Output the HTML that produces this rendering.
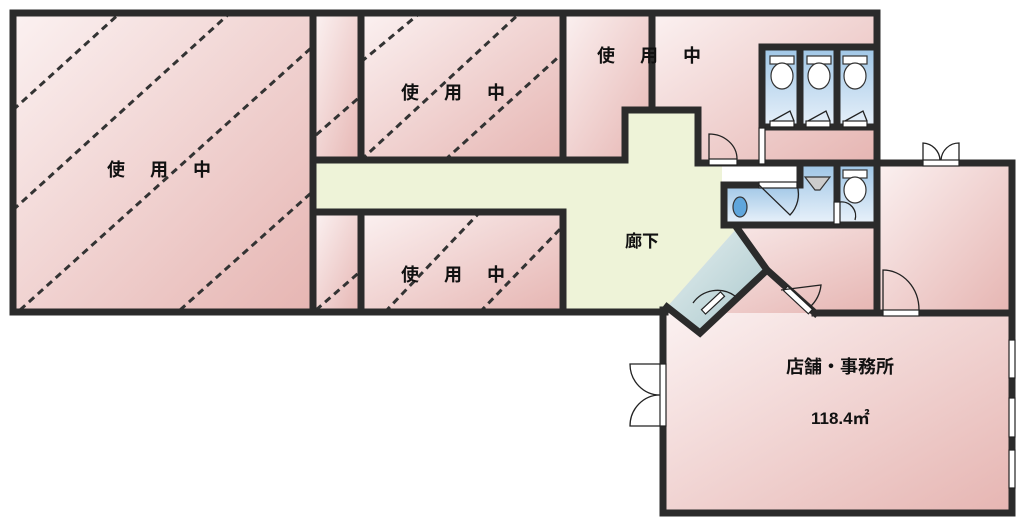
<!DOCTYPE html>
<html><head><meta charset="utf-8"><style>
html,body{margin:0;padding:0;background:#fff;}
svg{display:block;}
text{font-family:"Liberation Sans","Noto Sans CJK JP",sans-serif;font-weight:bold;fill:#111;}
</style></head><body>
<svg width="1028" height="525" viewBox="0 0 1028 525" xmlns="http://www.w3.org/2000/svg">
<defs>
<linearGradient id="pk" x1="0" y1="0" x2="1" y2="1">
<stop offset="0" stop-color="#fbf1f1"/><stop offset="1" stop-color="#e6b5b2"/></linearGradient>
<linearGradient id="bl" x1="0" y1="0" x2="0" y2="1">
<stop offset="0" stop-color="#9fc6e6"/><stop offset="1" stop-color="#e8f1fa"/></linearGradient>
<linearGradient id="cl" x1="0" y1="0" x2="1" y2="1">
<stop offset="0" stop-color="#e6f0f0"/><stop offset="1" stop-color="#a9c7cc"/></linearGradient>
<clipPath id="c1"><rect x="13" y="13" width="300" height="300"/></clipPath>
<clipPath id="c2"><rect x="316" y="13" width="46" height="147"/></clipPath>
<clipPath id="c3"><rect x="361" y="13" width="203" height="147"/></clipPath>
<clipPath id="c4"><rect x="316" y="212" width="46" height="100"/></clipPath>
<clipPath id="c5"><rect x="361" y="212" width="203" height="100"/></clipPath>
</defs>
<rect x="13" y="13" width="300" height="300" fill="url(#pk)"/>
<rect x="316" y="13" width="46" height="147" fill="url(#pk)"/>
<rect x="361" y="13" width="203" height="147" fill="url(#pk)"/>
<rect x="563" y="13" width="90" height="147" fill="url(#pk)"/>
<rect x="652" y="13" width="225" height="150" fill="url(#pk)"/>
<rect x="316" y="212" width="46" height="100" fill="url(#pk)"/>
<rect x="361" y="212" width="203" height="100" fill="url(#pk)"/>
<rect x="876" y="163" width="136" height="150" fill="url(#pk)"/>
<rect x="660" y="225" width="216" height="90" fill="url(#pk)"/>
<rect x="663" y="313" width="349" height="200" fill="url(#pk)"/>
<polygon points="625,110 698,110 698,163 722,163 722,225 737,228 667,307 665,310 563,310 563,212 316,212 316,163 625,163" fill="#eef3d8"/>
<rect x="762" y="47" width="112" height="80" fill="url(#bl)"/>
<rect x="726" y="185" width="74" height="38" fill="url(#bl)"/>
<rect x="800" y="165" width="75" height="58" fill="url(#bl)"/>
<polygon points="737,228 767,270 700,333 667,307" fill="url(#cl)"/>
<g stroke="#333" stroke-width="3" stroke-dasharray="7,5" fill="none">
<g clip-path="url(#c1)">
<line x1="13" y1="110" x2="120" y2="13"/><line x1="13" y1="210" x2="230" y2="13"/>
<line x1="20" y1="310" x2="320" y2="40"/><line x1="180" y1="310" x2="320" y2="185"/></g>
<g clip-path="url(#c2)"><line x1="316" y1="135" x2="362" y2="95"/></g>
<g clip-path="url(#c3)"><line x1="361" y1="62" x2="420" y2="13"/><line x1="361" y1="160" x2="520" y2="13"/><line x1="445" y1="160" x2="564" y2="52"/></g>
<g clip-path="url(#c4)"><line x1="316" y1="310" x2="362" y2="270"/></g>
<g clip-path="url(#c5)"><line x1="385" y1="312" x2="480" y2="212"/><line x1="480" y1="312" x2="564" y2="225"/></g>
</g>
<g stroke="#2b2b2b" stroke-width="7" fill="none" stroke-linecap="square">
<line x1="13" y1="13" x2="877" y2="13"/>
<line x1="13" y1="13" x2="13" y2="312"/>
<line x1="13" y1="312" x2="665" y2="312"/>
<line x1="313" y1="13" x2="313" y2="312"/>
<line x1="361" y1="13" x2="361" y2="160"/>
<line x1="361" y1="212" x2="361" y2="312"/>
<line x1="316" y1="160" x2="625" y2="160"/>
<line x1="316" y1="212" x2="563" y2="212"/>
<line x1="563" y1="13" x2="563" y2="160"/>
<line x1="563" y1="212" x2="563" y2="312"/>
<line x1="652" y1="13" x2="652" y2="110"/>
<line x1="625" y1="110" x2="698" y2="110"/>
<line x1="625" y1="110" x2="625" y2="160"/>
<line x1="698" y1="110" x2="698" y2="163"/>
<line x1="698" y1="163" x2="1012" y2="163"/>
<line x1="877" y1="13" x2="877" y2="313"/>
<line x1="762" y1="47" x2="877" y2="47"/>
<line x1="762" y1="47" x2="762" y2="127"/>
<line x1="762" y1="127" x2="877" y2="127"/>
<line x1="800" y1="47" x2="800" y2="127"/>
<line x1="837" y1="47" x2="837" y2="127"/>
<line x1="724" y1="185" x2="800" y2="185"/>
<line x1="724" y1="185" x2="724" y2="225"/>
<line x1="724" y1="225" x2="877" y2="225"/>
<line x1="800" y1="163" x2="800" y2="185"/>
<line x1="837" y1="163" x2="837" y2="225"/>
<line x1="1012" y1="163" x2="1012" y2="513"/>
<line x1="815" y1="313" x2="1012" y2="313"/>
<line x1="663" y1="310" x2="663" y2="513"/>
<line x1="663" y1="513" x2="1012" y2="513"/>
<polyline points="737,228 767,270 700,333 667,307" stroke-linejoin="miter"/>
<line x1="767" y1="270" x2="815" y2="313"/>
</g>
<g fill="#fff" stroke="#222" stroke-width="1.2">
<rect x="709" y="159" width="28" height="6"/>
<rect x="759" y="128" width="6" height="36"/>
<rect x="770" y="121" width="24" height="6"/><rect x="806" y="121" width="24" height="6"/><rect x="843" y="121" width="24" height="6"/>
<rect x="759" y="182" width="38" height="6"/>
<rect x="834" y="202" width="6" height="22"/>
<rect x="883" y="310" width="36" height="6"/>
<rect x="923" y="160" width="36" height="6"/>
<rect x="1009" y="340" width="6" height="38"/><rect x="1009" y="398" width="6" height="39"/><rect x="1009" y="450" width="6" height="38"/>
<rect x="660" y="364" width="6" height="62"/>
<rect x="795" y="283" width="6" height="34" transform="rotate(-47 798 300)"/>
<rect x="710" y="290" width="6" height="26" transform="rotate(47 713 303)"/>
</g>
<g fill="none" stroke="#222" stroke-width="1.3">
<path d="M709,159 L709,134 A28,25 0 0 1 737,159"/>
<path d="M883,310 L883,270 A36,40 0 0 1 919,310"/>
<path d="M923,160 L923,143 A18,18 0 0 1 940,160 M959,160 L959,143 A18,18 0 0 0 941,160"/>
<path d="M660,364 L630,364 A30,31 0 0 0 660,395 M660,426 L630,426 A30,31 0 0 1 660,395"/>
<path d="M759,185 L790,215 A30,30 0 0 0 797,185"/>
<path d="M781,290 L821,285 A35,35 0 0 1 810,307"/>
<path d="M693,303 A30,30 0 0 1 735,296"/>
<path d="M772,121 L790,111 L794,121 M808,121 L826,111 L830,121 M845,121 L863,111 L867,121"/>
<path d="M840,202 A14,14 0 0 1 855,220"/>
</g>
<g fill="#fff" stroke="#333" stroke-width="1.2">
<rect x="770" y="56" width="24" height="8"/><ellipse cx="782" cy="76" rx="11" ry="13"/>
<rect x="807" y="56" width="24" height="8"/><ellipse cx="819" cy="76" rx="11" ry="13"/>
<rect x="843" y="56" width="24" height="8"/><ellipse cx="855" cy="76" rx="11" ry="13"/>
<rect x="843" y="170" width="24" height="8"/><ellipse cx="855" cy="190" rx="11" ry="13"/>
<path d="M805,177 L830,177 L820,190 L815,190 Z" fill="#ccc"/>
<ellipse cx="740" cy="207" rx="7" ry="10" fill="#5fa6dc"/>
</g>
<text x="107" y="176" font-size="18" letter-spacing="25">使用中</text>
<text x="401" y="99" font-size="18" letter-spacing="25">使用中</text>
<text x="597" y="62" font-size="18" letter-spacing="25">使用中</text>
<text x="401" y="281" font-size="18" letter-spacing="25">使用中</text>
<text x="625" y="247" font-size="17">廊下</text>
<text x="786" y="373" font-size="18">店舗・事務所</text>
<text x="811" y="424" font-size="17">118.4㎡</text>
</svg>
</body></html>
